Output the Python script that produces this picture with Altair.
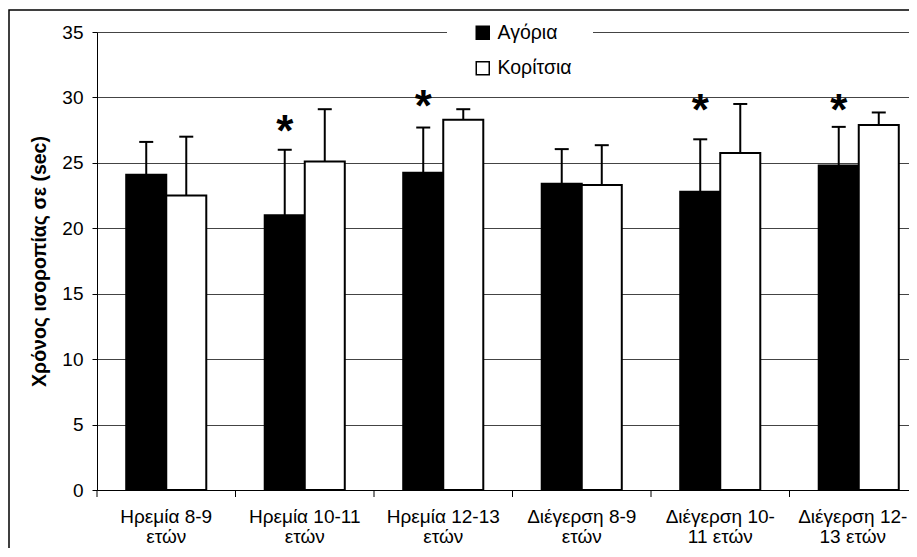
import altair as alt
import pandas as pd

categories = [
    "Ηρεμία 8-9\nετών",
    "Ηρεμία 10-11\nετών",
    "Ηρεμία 12-13\nετών",
    "Διέγερση 8-9\nετών",
    "Διέγερση 10-\n11 ετών",
    "Διέγερση 12-\n13 ετών",
]
sexes = ["Αγόρια", "Κορίτσια"]
boys_mean = [24.1, 21.0, 24.25, 23.4, 22.8, 24.8]
boys_sd = [2.5, 5.0, 3.45, 2.65, 4.0, 2.95]
girls_mean = [22.5, 25.1, 28.3, 23.3, 25.75, 27.9]
girls_sd = [4.5, 4.0, 0.8, 3.05, 3.75, 0.95]
asterisk_y = [None, 28.1, 30.0, None, 29.7, 29.7]

rows = []
for i, c in enumerate(categories):
    rows.append({"cat": c, "sex": sexes[0], "mean": boys_mean[i], "top": boys_mean[i] + boys_sd[i]})
    rows.append({"cat": c, "sex": sexes[1], "mean": girls_mean[i], "top": girls_mean[i] + girls_sd[i]})
df = pd.DataFrame(rows)
ast_df = pd.DataFrame([{"cat": c, "sex": sexes[0], "y": v} for c, v in zip(categories, asterisk_y) if v is not None])
cat_df = pd.DataFrame({"cat": categories})
one = pd.DataFrame({"a": [0]})

W, H = 812, 458
XR = 831
FONT = "Liberation Sans"

x_axis = alt.Axis(title=None, labelExpr="split(datum.label, '\\n')", labelFontSize=19,
                  labelLineHeight=20, labelPadding=17, tickSize=0, labelAngle=0,
                  labelOffset={"condition": {"test": "datum.index >= 0.99", "value": -6}, "value": 0},
                  domainColor="black", labelColor="black", grid=False, labelLimit=300)
X = alt.X("cat:N", sort=categories, scale=alt.Scale(range=[0, XR], paddingInner=0, paddingOuter=0), axis=x_axis)
XO = alt.XOffset("sex:N", sort=sexes, scale=alt.Scale(domain=sexes, paddingInner=0, paddingOuter=0.73))
y_scale = alt.Scale(domain=[0, 35], nice=False)
y_axis = alt.Axis(title="Χρόνος ισοροπίας σε (sec)", values=list(range(0, 36, 5)), tickSize=5,
                  labelFontSize=19, labelPadding=9, labelColor="black", tickColor="black",
                  domainColor="black", grid=True, gridColor="#444", titleFontSize=19.5,
                  titleFontWeight="bold", titleColor="black", titlePadding=12)

frame = alt.Chart(one).mark_rect(fill="transparent", stroke="black", strokeWidth=1.5).encode(
    x=alt.value(-88), x2=alt.value(W + 20), y=alt.value(-22), y2=alt.value(H + 95))
gap = alt.Chart(one).mark_rect(fill="white").encode(
    x=alt.value(350), x2=alt.value(496), y=alt.value(-12), y2=alt.value(12))

bars = alt.Chart(df).mark_bar(stroke="black", strokeWidth=2).encode(
    x=X, xOffset=XO,
    y=alt.Y("mean:Q", scale=y_scale, axis=y_axis),
    color=alt.Color("sex:N", sort=sexes,
                    scale=alt.Scale(domain=sexes, range=["black", "white"]),
                    legend=alt.Legend(title=None, orient="none", legendX=376, legendY=-9,
                                      symbolType="square", symbolSize=169,
                                      symbolStrokeColor="black", symbolStrokeWidth=1.5,
                                      labelFontSize=19.5, labelOffset=5, rowPadding=14.5,
                                      padding=0, labelColor="black")))
err = alt.Chart(df).mark_rule(color="black", strokeWidth=2).encode(
    x=X, xOffset=XO, y=alt.Y("mean:Q", scale=y_scale), y2="top:Q")
caps = alt.Chart(df).mark_tick(color="black", size=14, thickness=2, opacity=1).encode(
    x=X, xOffset=XO, y=alt.Y("top:Q", scale=y_scale))
stars = alt.Chart(ast_df).mark_text(text="*", fontSize=44, fontWeight="bold", color="black",
                                    baseline="alphabetic", dy=24).encode(
    x=X, xOffset=XO, y=alt.Y("y:Q", scale=y_scale))
ticks = alt.Chart(cat_df).mark_rule(color="black", strokeWidth=1).encode(
    x=alt.X("cat:N", sort=categories, bandPosition=0, axis=x_axis),
    y=alt.value(H), y2=alt.value(H + 7))

chart = alt.layer(frame, gap, bars, err, caps, stars, ticks).properties(
    width=W, height=H,
    autosize=alt.AutoSizeParams(type="none"),
    padding={"left": 89, "top": 24, "right": 0, "bottom": 58},
).configure_view(stroke=None).configure(font=FONT)

chart.save("out.html", embed_options={"renderer": "svg", "actions": False})
